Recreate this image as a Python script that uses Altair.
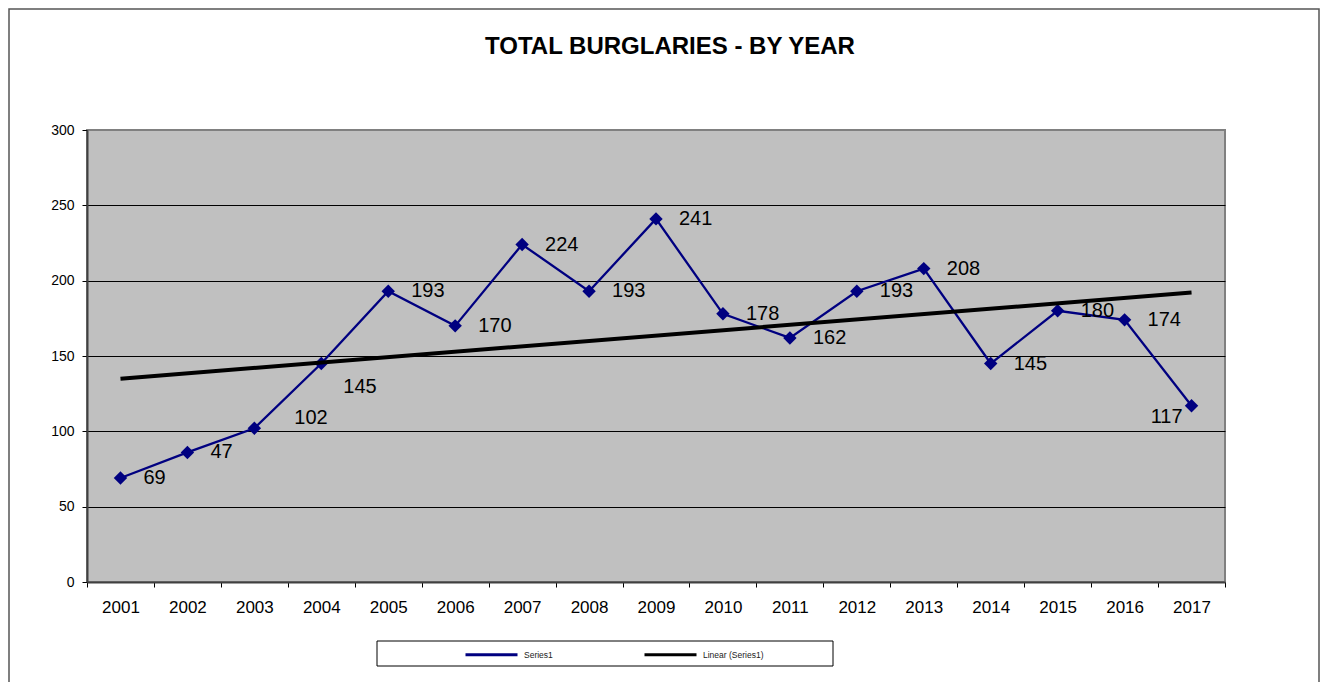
import altair as alt
import pandas as pd

years = list(range(2001, 2018))
values = [69, 86, 102, 145, 193, 170, 224, 193, 241, 178, 162, 193, 208, 145, 180, 174, 117]
labels = ["69", "47", "102", "145", "193", "170", "224", "193", "241", "178",
          "162", "193", "208", "145", "180", "174", "117"]
series_names = ["Series1", "Linear (Series1)"]
series_colors = ["#000080", "#000000"]
y_ticks = [0, 50, 100, 150, 200, 250, 300]

df = pd.DataFrame({"year": years, "value": values, "label": labels, "series": series_names[0]})
one = pd.DataFrame({"k": [0]})

W, H = 1138, 452
FONT = "Liberation Sans"

x = alt.X("year:O", title=None,
          scale=alt.Scale(type="band", paddingInner=0, paddingOuter=0),
          axis=alt.Axis(tickBand="extent", labelAngle=0, labelFontSize=17, labelColor="black",
                        labelFont=FONT, tickColor="black", tickSize=5, domainColor="#404040",
                        domainWidth=2, labelPadding=12, grid=False))
y = alt.Y("value:Q", title=None,
          scale=alt.Scale(domain=[0, 300], nice=False),
          axis=alt.Axis(values=y_ticks, tickSize=5, tickColor="black", grid=True,
                        gridColor=alt.condition("datum.value == 300 || datum.value == 0",
                                                alt.value("#808080"), alt.value("black")),
                        gridWidth=1, labelFontSize=14, labelFont=FONT, labelColor="black",
                        labelPadding=8, domainColor="#404040", domainWidth=2))
color = alt.Color("series:N",
                  scale=alt.Scale(domain=series_names, range=series_colors),
                  legend=alt.Legend(title=None, orient="none", legendX=377, legendY=497,
                                    direction="horizontal", symbolType="stroke",
                                    symbolSize=2704, symbolStrokeWidth=3, labelFontSize=8.5,
                                    labelFont=FONT, labelColor="#222", labelOffset=5,
                                    columnPadding=85, padding=0))

outer = alt.Chart(one).mark_rect(fill=None, stroke="#555555", strokeWidth=1.5).encode(
    x=alt.value(-78), x2=alt.value(1232), y=alt.value(-121), y2=alt.value(570))
legend_box = alt.Chart(one).mark_rect(fill=None, stroke="black", strokeWidth=1).encode(
    x=alt.value(290), x2=alt.value(746), y=alt.value(511), y2=alt.value(536))

line = alt.Chart(df).mark_line(strokeWidth=2.3).encode(x=x, y=y, color=color)
points = alt.Chart(df).mark_point(shape="diamond", filled=True, size=180, opacity=1).encode(
    x=x, y=y, color=color)
trend = alt.Chart(df).transform_regression("year", "value", method="linear").transform_calculate(
    series="'Linear (Series1)'").mark_line(strokeWidth=4).encode(x=x, y=y, color=color)

txt = dict(fontSize=20, font=FONT, color="black", baseline="middle")
lab_main = alt.Chart(df).transform_filter(
    "datum.year != 2003 && datum.year != 2004 && datum.year != 2017").mark_text(
    align="left", dx=23, **txt).encode(x=x, y=y, text="label:N")
lab_2003 = alt.Chart(df).transform_filter("datum.year == 2003").mark_text(
    align="left", dx=40, dy=-10, **txt).encode(x=x, y=y, text="label:N")
lab_2004 = alt.Chart(df).transform_filter("datum.year == 2004").mark_text(
    align="left", dx=22, dy=23, **txt).encode(x=x, y=y, text="label:N")
lab_2017 = alt.Chart(df).transform_filter("datum.year == 2017").mark_text(
    align="right", dx=-9, dy=11, **txt).encode(x=x, y=y, text="label:N")

chart = alt.layer(outer, legend_box, line, points, trend, lab_main, lab_2003, lab_2004, lab_2017).properties(
    width=W, height=H,
    title=alt.TitleParams("TOTAL BURGLARIES - BY YEAR", fontSize=24, font=FONT,
                          fontWeight="bold", color="black", anchor="middle", dx=14,
                          baseline="middle", offset=0, dy=63),
    padding={"left": 79, "top": 122, "right": 95, "bottom": 100},
    autosize=alt.AutoSizeParams(type="none"),
    background="white",
).configure_view(fill="#C0C0C0", stroke="#808080", strokeWidth=2)

chart.save("out.html", embed_options={"renderer": "svg", "actions": False})
